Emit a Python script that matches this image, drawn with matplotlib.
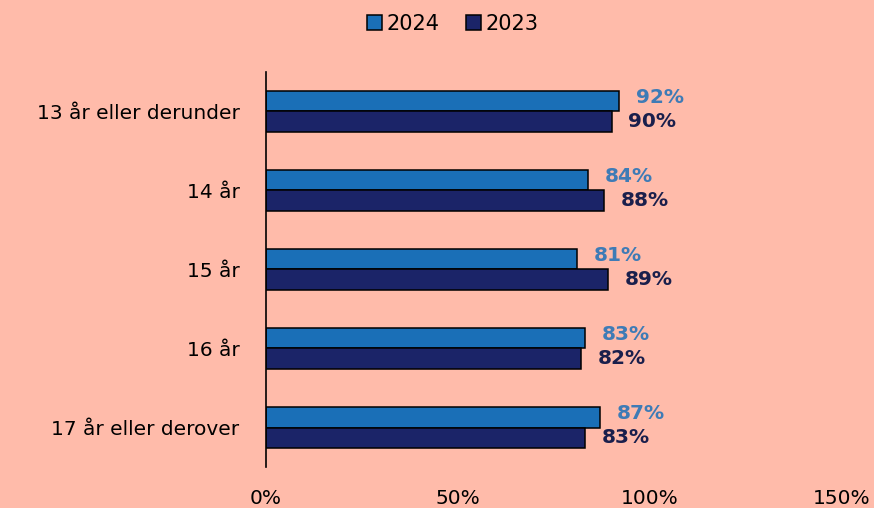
import matplotlib
matplotlib.use("Agg")
import matplotlib.pyplot as plt
import numpy as np

categories = ["13 år eller derunder", "14 år", "15 år", "16 år", "17 år eller derover"]
series_names = ["2024", "2023"]
values_2024 = [92, 84, 81, 83, 87]
values_2023 = [90, 88, 89, 82, 83]
x_ticks = [0, 50, 100, 150]

BG = "#FFBBAA"
BAR_COLORS = ["#1A6FB7", "#1B2468"]
LABEL_COLORS = ["#3E7BB6", "#1A1F4C"]

fig = plt.figure(figsize=(8.74, 5.08), dpi=100, facecolor=BG)
ax = fig.add_axes([0.3043, 0.0807, 0.659, 0.7776], facecolor=BG)

y = np.arange(len(categories))
h = 0.26
for i, (vals, name) in enumerate(zip([values_2024, values_2023], series_names)):
    pos = y - h / 2 if i == 0 else y + h / 2
    ax.barh(pos, vals, height=h, color=BAR_COLORS[i], edgecolor="black",
            linewidth=1.1, label=name)
    for p, v in zip(pos, vals):
        dy = 2.5 if i == 0 else 0
        ax.annotate(f"{v}%", (v, p), xytext=(12, dy), textcoords="offset points",
                    ha="left", va="center", fontsize=14.5, fontweight="bold",
                    color=LABEL_COLORS[i])

ax.set_ylim(len(categories) - 0.5, -0.5)
ax.set_xlim(0, 150)
ax.set_yticks(y, categories)
ax.set_xticks(x_ticks, [f"{t}%" for t in x_ticks])
ax.tick_params(axis="y", length=0, pad=19, labelsize=14.5)
ax.tick_params(axis="x", length=0, pad=16, labelsize=14.5)
for side in ["top", "right", "bottom"]:
    ax.spines[side].set_visible(False)
ax.spines["left"].set_linewidth(1.2)

fig.legend(loc="upper center", bbox_to_anchor=(0.518, 1.01), ncol=2, frameon=False,
           fontsize=15, handlelength=0.7, handleheight=0.7, handletextpad=0.2,
           columnspacing=1.3)

fig.savefig("out.png", dpi=100, facecolor=BG)
